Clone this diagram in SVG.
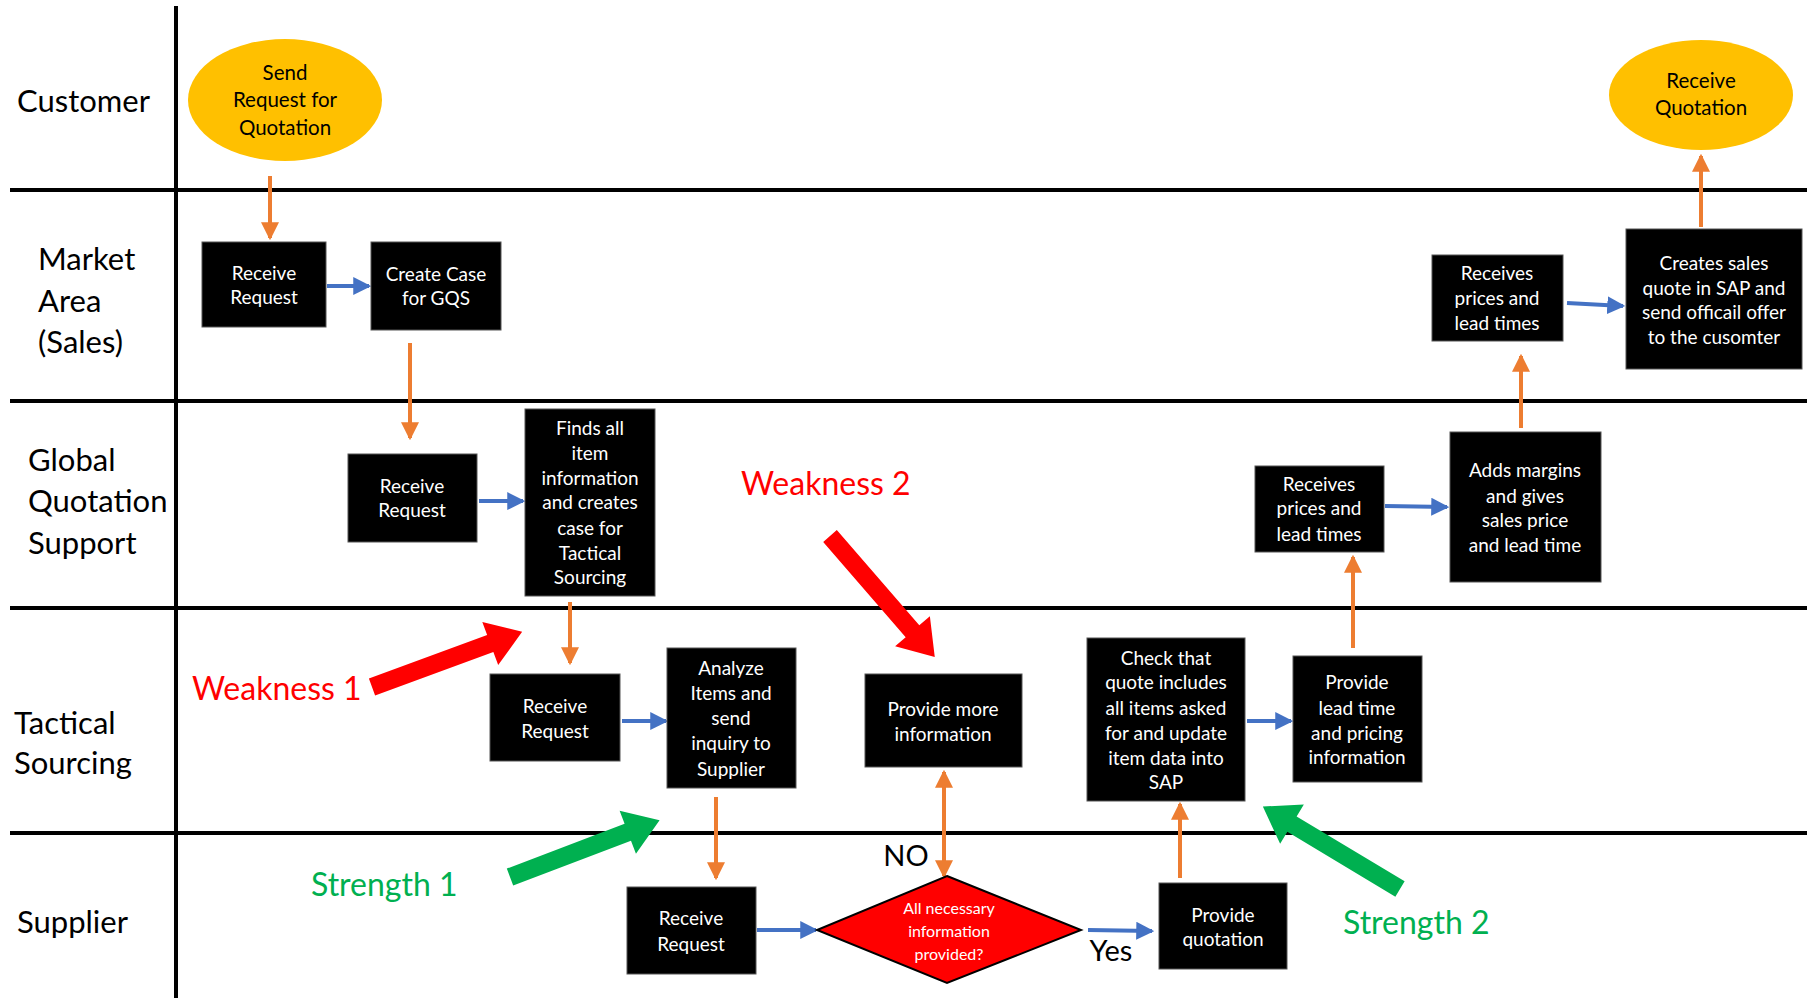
<svg xmlns="http://www.w3.org/2000/svg" width="1807" height="998" viewBox="0 0 1807 998">
  <style>
    .lane { stroke: #000; stroke-width: 4; }
    .lanelbl { font-family: Lato, "Open Sans", sans-serif; font-size: 31px; fill: #000; }
    .box { fill: #000; stroke: #555; stroke-width: 1; }
    .bt { font-family: Lato, "Open Sans", sans-serif; font-size: 19px; fill: #fff; text-anchor: middle; }
    .oval { fill: #FFC000; }
    .ot { font-family: Lato, "Open Sans", sans-serif; font-size: 20.5px; fill: #000; text-anchor: middle; }
    .dt { font-family: Lato, "Open Sans", sans-serif; font-size: 16px; fill: #fff; text-anchor: middle; }
    .orange { stroke: #ED7D31; stroke-width: 4; fill: none; marker-end: url(#headO); }
    .blue { stroke: #4472C4; stroke-width: 4; fill: none; marker-end: url(#headB); }
    .note { font-family: Lato, "Open Sans", sans-serif; font-size: 32px; }
    .red { fill: #FF0000; }
    .green { fill: #00B050; }
    .yn { font-family: Lato, "Open Sans", sans-serif; font-size: 29px; fill: #000; text-anchor: middle; }
  </style>
  <defs>
    <marker id="headO" markerUnits="userSpaceOnUse" markerWidth="18" markerHeight="18" viewBox="0 0 16 16" refX="14" refY="8" orient="auto-start-reverse">
      <path d="M0,0 L16,8 L0,16 Z" fill="#ED7D31"/>
    </marker>
    <marker id="headB" markerUnits="userSpaceOnUse" markerWidth="18" markerHeight="18" viewBox="0 0 16 16" refX="14" refY="8" orient="auto">
      <path d="M0,0 L16,8 L0,16 Z" fill="#4472C4"/>
    </marker>
    <!-- block arrow pointing right, length 160, tail at origin -->
    <path id="block" d="M0,-9 H126 V-23 L160,0 L126,23 V9 H0 Z"/>
  </defs>

  <rect width="1807" height="998" fill="#fff"/>

  <!-- swimlane grid -->
  <g id="lanes">
    <line class="lane" x1="176" y1="6" x2="176" y2="998"/>
    <line class="lane" x1="10" y1="190" x2="1807" y2="190"/>
    <line class="lane" x1="10" y1="401" x2="1807" y2="401"/>
    <line class="lane" x1="10" y1="608" x2="1807" y2="608"/>
    <line class="lane" x1="10" y1="833" x2="1807" y2="833"/>
    <text class="lanelbl" x="17" y="112">Customer</text>
    <text class="lanelbl" x="38" y="270">Market</text>
    <text class="lanelbl" x="38" y="312">Area</text>
    <text class="lanelbl" x="38" y="353">(Sales)</text>
    <text class="lanelbl" x="28" y="471">Global</text>
    <text class="lanelbl" x="28" y="512">Quotation</text>
    <text class="lanelbl" x="28" y="554">Support</text>
    <text class="lanelbl" x="14" y="734">Tactical</text>
    <text class="lanelbl" x="14" y="774">Sourcing</text>
    <text class="lanelbl" x="17" y="933">Supplier</text>
  </g>

  <!-- flow connectors -->
  <g id="connectors">
    <line class="orange" x1="270" y1="176" x2="270" y2="238"/>
    <line class="orange" x1="410" y1="343" x2="410" y2="438"/>
    <line class="orange" x1="570" y1="602" x2="570" y2="663"/>
    <line class="orange" x1="716" y1="797" x2="716" y2="878"/>
    <line class="orange" x1="944" y1="772" x2="944" y2="876" style="marker-start:url(#headO)"/>
    <line class="orange" x1="1180" y1="878" x2="1180" y2="804"/>
    <line class="orange" x1="1353" y1="648" x2="1353" y2="557"/>
    <line class="orange" x1="1521" y1="428" x2="1521" y2="356"/>
    <line class="orange" x1="1701" y1="227" x2="1701" y2="156"/>

    <line class="blue" x1="327" y1="286" x2="369" y2="286"/>
    <line class="blue" x1="479" y1="501" x2="523" y2="501"/>
    <line class="blue" x1="622" y1="721" x2="666" y2="721"/>
    <line class="blue" x1="757" y1="930" x2="816" y2="930"/>
    <line class="blue" x1="1088" y1="930" x2="1152" y2="931"/>
    <line class="blue" x1="1247" y1="721" x2="1291" y2="721"/>
    <line class="blue" x1="1385" y1="506" x2="1447" y2="507"/>
    <line class="blue" x1="1567" y1="303" x2="1623" y2="306"/>
  </g>

  <!-- Customer -->
  <g id="send-rfq">
    <ellipse class="oval" cx="285" cy="100" rx="97" ry="61"/>
    <text class="ot" x="285" y="80">Send</text>
    <text class="ot" x="285" y="107">Request for</text>
    <text class="ot" x="285" y="135">Quotation</text>
  </g>
  <g id="receive-quotation">
    <ellipse class="oval" cx="1701" cy="95" rx="92" ry="55"/>
    <text class="ot" x="1701" y="88">Receive</text>
    <text class="ot" x="1701" y="115">Quotation</text>
  </g>

  <!-- Market Area (Sales) -->
  <g id="ma-receive">
    <rect class="box" x="202" y="242" width="124" height="85"/>
    <text class="bt" x="264" y="280">Receive</text>
    <text class="bt" x="264" y="304">Request</text>
  </g>
  <g id="ma-create-case">
    <rect class="box" x="371" y="242" width="130" height="88"/>
    <text class="bt" x="436" y="281">Create Case</text>
    <text class="bt" x="436" y="305">for GQS</text>
  </g>
  <g id="ma-receives-prices">
    <rect class="box" x="1432" y="255" width="131" height="86"/>
    <text class="bt" x="1497" y="280">Receives</text>
    <text class="bt" x="1497" y="305">prices and</text>
    <text class="bt" x="1497" y="330">lead times</text>
  </g>
  <g id="ma-creates-quote">
    <rect class="box" x="1626" y="229" width="176" height="140"/>
    <text class="bt" x="1714" y="270">Creates sales</text>
    <text class="bt" x="1714" y="295">quote in SAP and</text>
    <text class="bt" x="1714" y="319">send officail offer</text>
    <text class="bt" x="1714" y="344">to the cusomter</text>
  </g>

  <!-- Global Quotation Support -->
  <g id="gqs-receive">
    <rect class="box" x="348" y="454" width="129" height="88"/>
    <text class="bt" x="412" y="493">Receive</text>
    <text class="bt" x="412" y="517">Request</text>
  </g>
  <g id="gqs-finds">
    <rect class="box" x="525" y="409" width="130" height="187"/>
    <text class="bt" x="590" y="435">Finds all</text>
    <text class="bt" x="590" y="460">item</text>
    <text class="bt" x="590" y="485">information</text>
    <text class="bt" x="590" y="509">and creates</text>
    <text class="bt" x="590" y="535">case for</text>
    <text class="bt" x="590" y="560">Tactical</text>
    <text class="bt" x="590" y="584">Sourcing</text>
  </g>
  <g id="gqs-receives-prices">
    <rect class="box" x="1255" y="466" width="129" height="86"/>
    <text class="bt" x="1319" y="491">Receives</text>
    <text class="bt" x="1319" y="515">prices and</text>
    <text class="bt" x="1319" y="541">lead times</text>
  </g>
  <g id="gqs-adds-margins">
    <rect class="box" x="1450" y="432" width="151" height="150"/>
    <text class="bt" x="1525" y="477">Adds margins</text>
    <text class="bt" x="1525" y="503">and gives</text>
    <text class="bt" x="1525" y="527">sales price</text>
    <text class="bt" x="1525" y="552">and lead time</text>
  </g>

  <!-- Tactical Sourcing -->
  <g id="ts-receive">
    <rect class="box" x="490" y="674" width="130" height="87"/>
    <text class="bt" x="555" y="713">Receive</text>
    <text class="bt" x="555" y="738">Request</text>
  </g>
  <g id="ts-analyze">
    <rect class="box" x="667" y="648" width="129" height="140"/>
    <text class="bt" x="731" y="675">Analyze</text>
    <text class="bt" x="731" y="700">Items and</text>
    <text class="bt" x="731" y="725">send</text>
    <text class="bt" x="731" y="750">inquiry to</text>
    <text class="bt" x="731" y="776">Supplier</text>
  </g>
  <g id="ts-provide-more">
    <rect class="box" x="865" y="674" width="157" height="93"/>
    <text class="bt" x="943" y="716">Provide more</text>
    <text class="bt" x="943" y="741">information</text>
  </g>
  <g id="ts-check-quote">
    <rect class="box" x="1087" y="638" width="158" height="163"/>
    <text class="bt" x="1166" y="665">Check that</text>
    <text class="bt" x="1166" y="689">quote includes</text>
    <text class="bt" x="1166" y="715">all items asked</text>
    <text class="bt" x="1166" y="740">for and update</text>
    <text class="bt" x="1166" y="765">item data into</text>
    <text class="bt" x="1166" y="789">SAP</text>
  </g>
  <g id="ts-provide-lead">
    <rect class="box" x="1293" y="656" width="129" height="126"/>
    <text class="bt" x="1357" y="689">Provide</text>
    <text class="bt" x="1357" y="715">lead time</text>
    <text class="bt" x="1357" y="740">and pricing</text>
    <text class="bt" x="1357" y="764">information</text>
  </g>

  <!-- Supplier -->
  <g id="sup-receive">
    <rect class="box" x="627" y="887" width="129" height="87"/>
    <text class="bt" x="691" y="925">Receive</text>
    <text class="bt" x="691" y="951">Request</text>
  </g>
  <g id="sup-decision">
    <polygon points="947,876 1081,930 947,983 817,930" fill="#FF0000" stroke="#000" stroke-width="2"/>
    <text class="dt" x="949" y="914">All necessary</text>
    <text class="dt" x="949" y="937">information</text>
    <text class="dt" x="949" y="960">provided?</text>
  </g>
  <g id="sup-provide-quotation">
    <rect class="box" x="1159" y="883" width="128" height="86"/>
    <text class="bt" x="1223" y="922">Provide</text>
    <text class="bt" x="1223" y="946">quotation</text>
  </g>

  <!-- decision labels -->
  <text class="yn" x="906" y="866">NO</text>
  <text class="yn" x="1111" y="961">Yes</text>

  <!-- assessment callouts -->
  <g id="weakness-1">
    <use href="#block" class="red" transform="translate(372,687) rotate(-20.2)"/>
    <text class="note red" x="192" y="700">Weakness 1</text>
  </g>
  <g id="weakness-2">
    <use href="#block" class="red" transform="translate(830,536) rotate(49.1)"/>
    <text class="note red" x="741" y="495">Weakness 2</text>
  </g>
  <g id="strength-1">
    <use href="#block" class="green" transform="translate(510,877) rotate(-20.8)"/>
    <text class="note green" x="311" y="896">Strength 1</text>
  </g>
  <g id="strength-2">
    <use href="#block" class="green" transform="translate(1400,889) rotate(-149)"/>
    <text class="note green" x="1343" y="934">Strength 2</text>
  </g>
</svg>
